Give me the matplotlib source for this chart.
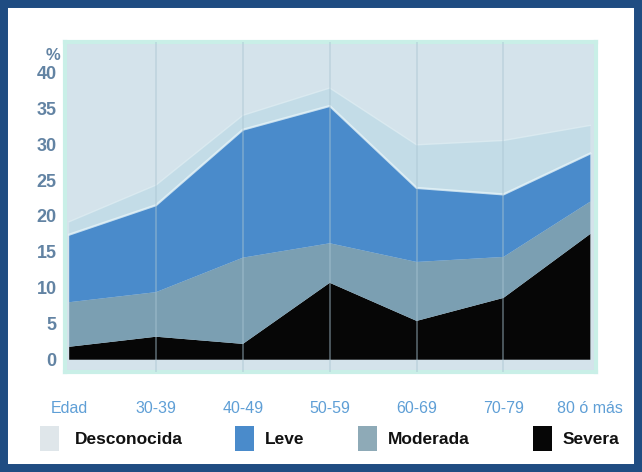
import matplotlib
matplotlib.use("Agg")
import matplotlib.pyplot as plt
from matplotlib.patches import Rectangle
import numpy as np

# Age groups on the x axis
categories = ["Edad", "30-39", "40-49", "50-59", "60-69", "70-79", "80 ó más"]

# Percentages per severity (stacked bottom to top)
severa = [1.8, 3.2, 2.2, 10.7, 5.4, 8.6, 17.5]
moderada = [6.2, 6.2, 12.0, 5.5, 8.2, 5.7, 4.5]
leve = [9.4, 12.1, 17.8, 19.1, 10.3, 8.7, 6.7]
desconocida = [1.8, 2.8, 2.0, 2.5, 6.0, 7.5, 3.9]

series_names = ["Severa", "Moderada", "Leve", "Desconocida"]
series_colors = ["#060606", "#7b9fb2", "#4a8bcb", "#c3dce7"]

yticks = [0, 5, 10, 15, 20, 25, 30, 35, 40]

plt.rcParams["font.family"] = ["Liberation Sans", "DejaVu Sans"]

fig = plt.figure(figsize=(6.42, 4.72), dpi=100)
fig.patch.set_facecolor("white")

ax = fig.add_axes([0.101, 0.212, 0.828, 0.699])
ax.set_facecolor("#d4e3eb")

x = np.arange(len(categories))
stack = [severa, moderada, leve, desconocida]
ax.stackplot(x, *stack, colors=series_colors, linewidth=0, zorder=2)

# Light edge along the top of the "Leve" band
tops = np.cumsum(np.array(stack), axis=0)
ax.plot(x, tops[2], color="#e6f4f8", lw=1.6, alpha=0.8, zorder=3)
ax.plot(x, tops[3], color="#e0eef3", lw=1.0, alpha=0.7, zorder=3)

# Vertical guides at each interior age group
for xi in x[1:-1]:
    ax.axvline(xi, color="#a9c4d2", lw=1.3, alpha=0.45, zorder=4)

ax.set_xlim(-0.05, 6.07)
ax.set_ylim(-1.7, 44.2)
ax.set_yticks(yticks)
ax.set_yticklabels([str(v) for v in yticks])
ax.set_xticks(x)
ax.set_xticklabels(categories)

ax.tick_params(axis="y", length=0, pad=6, labelsize=13, labelcolor="#6283a3")
ax.tick_params(axis="x", length=0, pad=21, labelsize=11.5, labelcolor="#5f9fd6")
for lab in ax.get_yticklabels():
    lab.set_fontweight("bold")

ax.text(-0.1, 42.3, "%", transform=ax.transData, ha="right", va="center",
        fontsize=12, fontweight="bold", color="#6283a3")

for sp in ax.spines.values():
    sp.set_color("#c9efe7")
    sp.set_linewidth(3)

# Legend row
legend_items = [("Desconocida", "#dfe6ea", 40, 75),
                ("Leve", "#4a8bcb", 235, 265),
                ("Moderada", "#8eaab7", 358, 388),
                ("Severa", "#060606", 533, 563)]
W, H = 642.0, 472.0
for name, col, px, tx in legend_items:
    fig.patches.append(Rectangle((px / W, 1 - 451 / H), 19 / W, 25 / H,
                                 transform=fig.transFigure, facecolor=col,
                                 edgecolor="none"))
    fig.text(tx / W, 1 - 439 / H, name, ha="left", va="center",
             fontsize=12.5, fontweight="bold", color="#111111")

# Dark blue frame around the figure
fig.patches.append(Rectangle((0, 0), 1, 1, transform=fig.transFigure,
                             facecolor="none", edgecolor="#1f4c82",
                             linewidth=11.5, zorder=10))

fig.savefig("out.png", dpi=100)
